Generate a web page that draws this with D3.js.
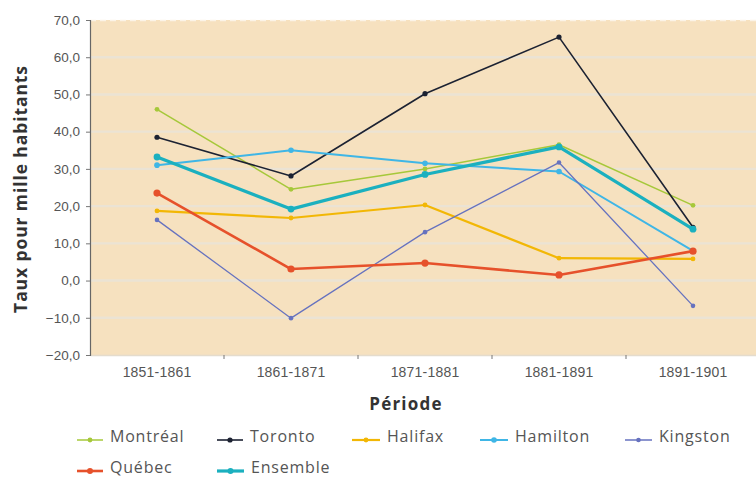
<!DOCTYPE html>
<html>
<head>
<meta charset="utf-8">
<script src="https://cdn.jsdelivr.net/npm/d3@7"></script>
<style>
  html, body { margin: 0; padding: 0; background: #fff; }
  svg { display: block; font-family: "Open Sans", "DejaVu Sans", sans-serif; }
</style>
</head>
<body>
<svg id="chart" width="756" height="483"></svg>
<script>
// Periods on the x axis
const periods = ["1851-1861", "1861-1871", "1871-1881", "1881-1891", "1891-1901"];

// Rates per thousand inhabitants, one array per city
const montreal = [46.0, 24.5, 30.0, 36.5, 20.2];
const toronto  = [38.5, 28.1, 50.2, 65.4, 14.3];
const halifax  = [18.7, 16.8, 20.3, 6.0, 5.8];
const hamilton = [31.0, 35.0, 31.5, 29.3, 8.0];
const kingston = [16.3, -10.1, 13.0, 31.7, -6.8];
const quebec   = [23.5, 3.1, 4.7, 1.5, 7.9];
const ensemble = [33.2, 19.2, 28.5, 35.9, 13.8];

// Y axis tick values
const yTicks = [-20, -10, 0, 10, 20, 30, 40, 50, 60, 70];

const seriesNames = ["Montréal", "Toronto", "Halifax", "Hamilton", "Kingston", "Québec", "Ensemble"];
const seriesData = [montreal, toronto, halifax, hamilton, kingston, quebec, ensemble];
const seriesColors = ["#a6c83a", "#1c2232", "#f2b705", "#3fb6e6", "#6672bf", "#e6512b", "#1bb0bf"];
const seriesWidths = [1.5, 1.6, 2.2, 2, 1.3, 2.6, 3.2];
const markerSizes = [2.4, 2.6, 2.4, 2.8, 2.3, 3.6, 3.4];

const svg = d3.select("#chart");
const plot = { left: 90, right: 760, top: 20, bottom: 355 };

const x = d3.scaleBand().domain(periods).range([plot.left, plot.right]);
const y = d3.scaleLinear().domain([-20, 70]).range([plot.bottom, plot.top]);

// plot background
svg.append("rect")
  .attr("x", plot.left).attr("y", plot.top)
  .attr("width", plot.right - plot.left).attr("height", plot.bottom - plot.top)
  .attr("fill", "#f6e1bf");

// horizontal grid lines
svg.append("g")
  .selectAll("line")
  .data(yTicks.filter(d => d > -20 && d < 70))
  .join("line")
  .attr("x1", plot.left).attr("x2", plot.right)
  .attr("y1", d => y(d)).attr("y2", d => y(d))
  .attr("stroke", "#ebe3d4").attr("stroke-width", 2.4);

// dotted top border
svg.append("line")
  .attr("x1", plot.left).attr("x2", plot.right)
  .attr("y1", plot.top + 0.5).attr("y2", plot.top + 0.5)
  .attr("stroke", "#fbf3e6").attr("stroke-width", 1.5)
  .attr("stroke-dasharray", "6 4");

// bottom axis
const xAxis = svg.append("g")
  .attr("transform", `translate(0,${plot.bottom})`)
  .call(d3.axisBottom(x).tickSize(0).tickPadding(12));
xAxis.select(".domain").attr("stroke", "#e4dccd").attr("stroke-width", 1.5);
xAxis.selectAll("text")
  .attr("font-size", 14).attr("fill", "#555").style("letter-spacing", "0.2px");
// category boundary ticks
xAxis.append("g").selectAll("line")
  .data(periods.slice(1))
  .join("line")
  .attr("x1", d => x(d)).attr("x2", d => x(d))
  .attr("y1", 0).attr("y2", 4)
  .attr("stroke", "#777");

// left axis
const yAxis = svg.append("g")
  .attr("transform", `translate(${plot.left},0)`)
  .call(d3.axisLeft(y).tickValues(yTicks).tickSize(4).tickPadding(6)
    .tickFormat(d => d3.format(".1f")(d).replace(".", ",")));
yAxis.select(".domain").attr("stroke", "#666").attr("stroke-width", 1.2);
yAxis.selectAll(".tick line").attr("stroke", "#777");
yAxis.selectAll("text")
  .attr("font-size", 13.5).attr("fill", "#555").style("letter-spacing", "0px");

// axis titles
svg.append("text")
  .attr("transform", `translate(27,189) rotate(-90)`)
  .attr("text-anchor", "middle")
  .attr("font-size", 17.5).attr("font-weight", "bold").attr("fill", "#333")
  .style("letter-spacing", "0.9px")
  .text("Taux pour mille habitants");

svg.append("text")
  .attr("x", 406).attr("y", 410)
  .attr("text-anchor", "middle")
  .attr("font-size", 17).attr("font-weight", "bold").attr("fill", "#333")
  .style("letter-spacing", "1.2px")
  .text("Période");

// series lines and markers
const line = d3.line()
  .x((d, i) => x(periods[i]) + x.bandwidth() / 2)
  .y(d => y(d));

seriesData.forEach((vals, s) => {
  const g = svg.append("g");
  g.append("path")
    .datum(vals)
    .attr("d", line)
    .attr("fill", "none")
    .attr("stroke", seriesColors[s])
    .attr("stroke-width", seriesWidths[s])
    .attr("stroke-linejoin", "round");
  g.selectAll("circle")
    .data(vals)
    .join("circle")
    .attr("cx", (d, i) => x(periods[i]) + x.bandwidth() / 2)
    .attr("cy", d => y(d))
    .attr("r", markerSizes[s])
    .attr("fill", seriesColors[s]);
});

// legend
const legendPos = [
  [77, 440], [217, 440], [352, 440], [480, 440], [625, 440],
  [77, 471], [217, 471]
];
const legendLen = [26, 26, 28, 28, 27, 26, 27];
seriesNames.forEach((name, s) => {
  const [lx, ly] = legendPos[s];
  const g = svg.append("g").attr("transform", `translate(${lx},${ly})`);
  g.append("line")
    .attr("x1", 0).attr("x2", legendLen[s])
    .attr("y1", 0).attr("y2", 0)
    .attr("stroke", seriesColors[s])
    .attr("stroke-width", Math.max(1.5, seriesWidths[s]));
  g.append("circle")
    .attr("cx", legendLen[s] / 2).attr("cy", 0)
    .attr("r", Math.min(markerSizes[s], 3))
    .attr("fill", seriesColors[s]);
  g.append("text")
    .attr("x", legendLen[s] + 7).attr("y", 2)
    .attr("font-size", 16).attr("fill", "#555")
    .style("letter-spacing", "0.8px")
    .text(name);
});
</script>
</body>
</html>
